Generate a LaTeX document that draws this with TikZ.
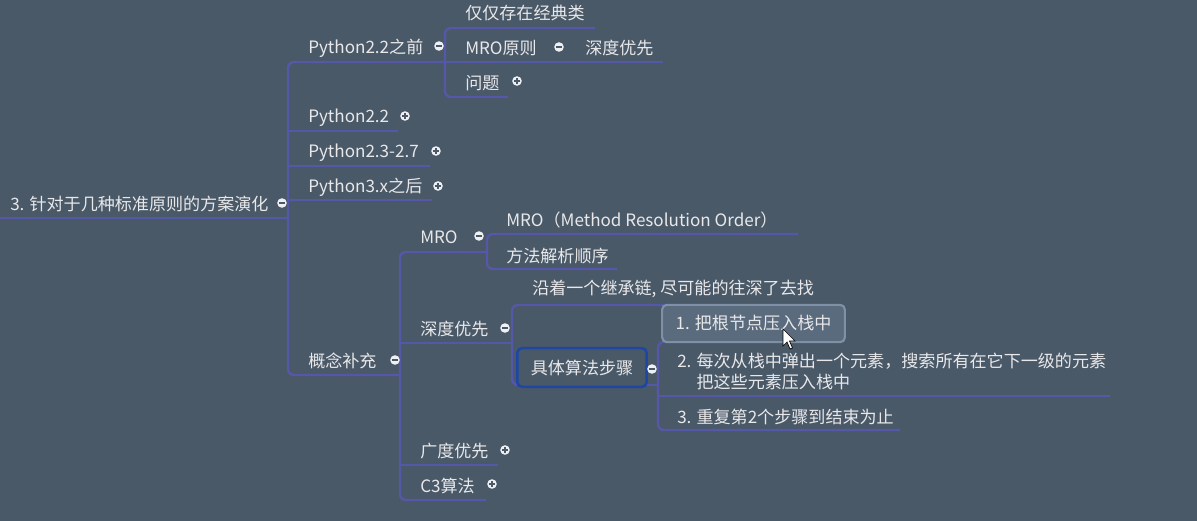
\documentclass[tikz,border=0pt]{standalone}
\usepackage{fontspec}
\setmainfont{Noto Sans CJK SC}
\definecolor{bgc}{HTML}{4A5968}
\definecolor{linec}{HTML}{5557A8}
\definecolor{textc}{HTML}{E8E8EA}
\definecolor{togc}{HTML}{EEF0F4}
\definecolor{algborder}{HTML}{1D46A6}
\definecolor{selfill}{HTML}{5B6B7E}
\definecolor{selborder}{HTML}{8090A6}
\tikzset{
  txt/.style={anchor=west, text=textc, inner sep=0pt, yshift=-1pt, font=\fontsize{12.8}{15}\selectfont},
  conn/.style={draw=linec, line width=1.8pt},
  rc/.style={rounded corners=4.5pt},
  togminus/.pic={\fill[togc] (0,0) circle (3.6pt); \draw[bgc, line width=0.9pt] (-2pt,0) -- (2pt,0);},
  togplus/.pic={\fill[togc] (0,0) circle (3.6pt); \draw[bgc, line width=0.9pt] (-2pt,0) -- (2pt,0) (0,-2pt) -- (0,2pt);},
}
\begin{document}
\begin{tikzpicture}[x=0.75pt,y=-0.75pt]
\fill[bgc] (0,0) rectangle (1197,521);
\useasboundingbox (0,0) rectangle (1197,521);

% ---------- connectors ----------
\coordinate (rootL) at (0,218);
\coordinate (t1) at (288,218);
\draw[conn] (rootL) -- (t1);
% trunk 1
\draw[conn, rc] (445,62) -- (288,62) -- (288,375) -- (400,375);
\draw[conn] (288,131) -- (398,131);
\draw[conn] (288,166) -- (430,166);
\draw[conn] (288,200) -- (432,200);
% trunk 2 (Python2.2之前)
\draw[conn, rc] (595,28) -- (445,28) -- (445,97) -- (508,97);
\draw[conn] (445,62) -- (663,62);
% trunk 3 (概念补充)
\draw[conn, rc] (487,252) -- (400,252) -- (400,500) -- (486,500);
\draw[conn] (400,343) -- (512,343);
\draw[conn] (400,465) -- (498,465);
% trunk 4 (MRO)
\draw[conn, rc] (798,234) -- (487,234) -- (487,269) -- (617,269);
% trunk 5 (深度优先)
\draw[conn, rc] (668,305) -- (512,305) -- (512,385) -- (525,385);
% trunk 6 (具体算法步骤)
\draw[conn] (640,385) -- (658,385);
\draw[conn, rc] (672,342) -- (658,342) -- (658,430) -- (900,430);
\draw[conn] (658,396) -- (1110,396);

% ---------- nodes ----------
\node[txt] (root) at (10,203) {3. 针对于几种标准原则的方案演化};
\node[txt] (p22b) at (308,47) {Python2.2之前};
\node[txt] (jdlei) at (465,12) {仅仅存在经典类};
\node[txt] (mroyz) at (465,47) {MRO原则};
\node[txt] (sdyx1) at (585,47) {深度优先};
\node[txt] (wenti) at (465,82) {问题};
\node[txt] (p22) at (308,116) {Python2.2};
\node[txt] (p23) at (308,151) {Python2.3-2.7};
\node[txt] (p3x) at (308,186) {Python3.x之后};
\node[txt] (gnbc) at (308,360) {概念补充};
\node[txt] (mro) at (420,236) {MRO};
\node[txt] (mrofull) at (506,219) {MRO（Method Resolution Order）};
\node[txt] (ffjx) at (506,255) {方法解析顺序};
\node[txt] (sdyx2) at (420,328) {深度优先};
\node[txt] (yanzhe) at (532,288) {沿着一个继承链, 尽可能的往深了去找};
\node[txt] (gdyx) at (420,450) {广度优先};
\node[txt] (c3) at (420,485) {C3算法};

\node[draw=algborder, line width=1.9pt, rounded corners=3.5pt, fill=bgc,
      minimum width=97pt, minimum height=29pt, inner sep=0pt,
      text=textc, font=\fontsize{12.8}{15}\selectfont] (alg) at (582,367.5) {具体算法步骤};

\node[draw=selborder, line width=1.6pt, rounded corners=3.5pt, fill=selfill,
      minimum width=137pt, minimum height=28pt, inner sep=0pt,
      text=textc, font=\fontsize{12.8}{15}\selectfont] (s1) at (753.5,323.5) {1. 把根节点压入栈中};

\node[txt, align=left, font=\fontsize{12.8}{15.2}\selectfont] (s2) at (677,370)
  {2. 每次从栈中弹出一个元素，搜索所有在它下一级的元素\\\phantom{2. }把这些元素压入栈中};
\node[txt] (s3) at (677,416) {3. 重复第2个步骤到结束为止};

% ---------- toggles ----------
\pic at (282,203) {togminus};
\pic at (439,46) {togminus};
\pic at (559,47) {togminus};
\pic at (395,360) {togminus};
\pic at (479,236) {togminus};
\pic at (505,328) {togminus};
\pic at (652,369) {togminus};
\pic at (405,116) {togplus};
\pic at (436,151) {togplus};
\pic at (438,186) {togplus};
\pic at (517,81) {togplus};
\pic at (505,450) {togplus};
\pic at (492,484) {togplus};

% ---------- mouse cursor ----------
\filldraw[fill=white, draw=black, line width=0.5pt]
  (783,329) -- (783,346) -- (787,342) -- (790,349) -- (792.5,348) -- (789.5,341) -- (795,341) -- cycle;
\end{tikzpicture}
\end{document}
